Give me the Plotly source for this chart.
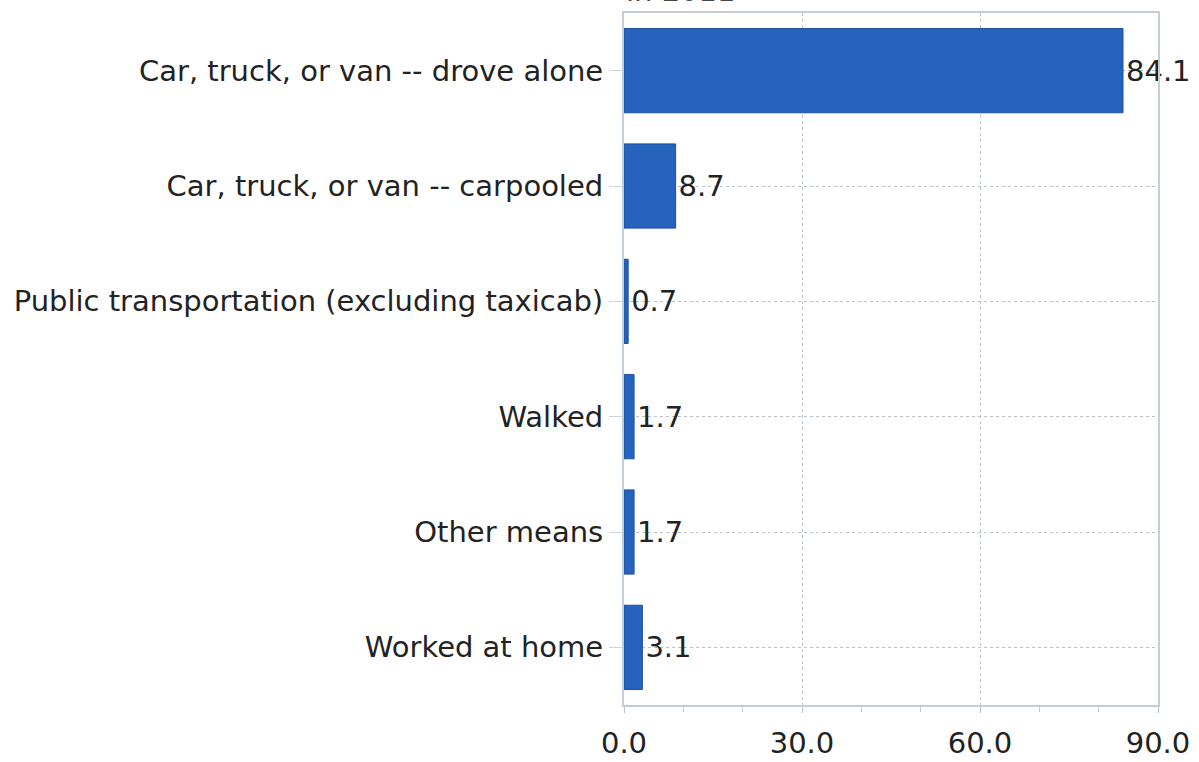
import plotly.graph_objects as go

categories = [
    "Car, truck, or van -- drove alone",
    "Car, truck, or van -- carpooled",
    "Public transportation (excluding taxicab)",
    "Walked",
    "Other means",
    "Worked at home",
]
values = [84.1, 8.7, 0.7, 1.7, 1.7, 3.1]
value_labels = ["84.1", "8.7", "0.7", "1.7", "1.7", "3.1"]
x_tickvals = [0, 30, 60, 90]
x_ticktext = ["0.0", "30.0", "60.0", "90.0"]

FONT = "DejaVu Sans"
FS = 29
GRID = "#b8c0c8"
FRAME = "#c4ccd4"

fig = go.Figure()
fig.add_trace(go.Bar(
    y=categories,
    x=values,
    orientation="h",
    width=0.73,
    marker=dict(color="#2563BF", line=dict(color="#1d4f9c", width=1)),
    text=value_labels,
    textposition="outside",
    textfont=dict(family=FONT, size=FS, color="#222222"),
    cliponaxis=False,
    showlegend=False,
))

fig.update_layout(
    width=1199,
    height=762,
    margin=dict(l=624, r=41, t=13, b=57),
    paper_bgcolor="white",
    plot_bgcolor="white",
    font=dict(family=FONT, size=FS, color="#222222"),
    xaxis=dict(
        range=[0, 90],
        tickvals=x_tickvals,
        ticktext=x_ticktext,
        automargin=False,
        showgrid=True,
        gridcolor=GRID,
        griddash="dot",
        gridwidth=1,
        showline=True,
        linecolor=FRAME,
        linewidth=2,
        mirror=True,
        ticks="outside",
        ticklen=6,
        tickcolor=GRID,
        ticklabelstandoff=5,
        minor=dict(dtick=10, ticks="outside", ticklen=5, tickcolor="#c8ccd0", showgrid=False),
        zeroline=False,
        tickfont=dict(family=FONT, size=FS, color="#222222"),
    ),
    yaxis=dict(
        categoryorder="array",
        categoryarray=categories[::-1],
        automargin=False,
        showgrid=True,
        gridcolor=GRID,
        griddash="dot",
        gridwidth=1,
        showline=True,
        linecolor=FRAME,
        linewidth=2,
        mirror=True,
        ticks="outside",
        ticklen=13,
        tickcolor="#d0d4d8",
        tickfont=dict(family=FONT, size=FS, color="#222222"),
        zeroline=False,
    ),
)

fig.add_annotation(
    text="in 2011",
    xref="paper", yref="paper",
    x=0.0, y=1.0,
    xanchor="left", yanchor="bottom",
    yshift=3,
    showarrow=False,
    font=dict(family=FONT, size=FS, color="#444444"),
)

fig.write_html(
    "out.html",
    config={"displayModeBar": False},
    post_script="document.body.style.margin='0';",
)
